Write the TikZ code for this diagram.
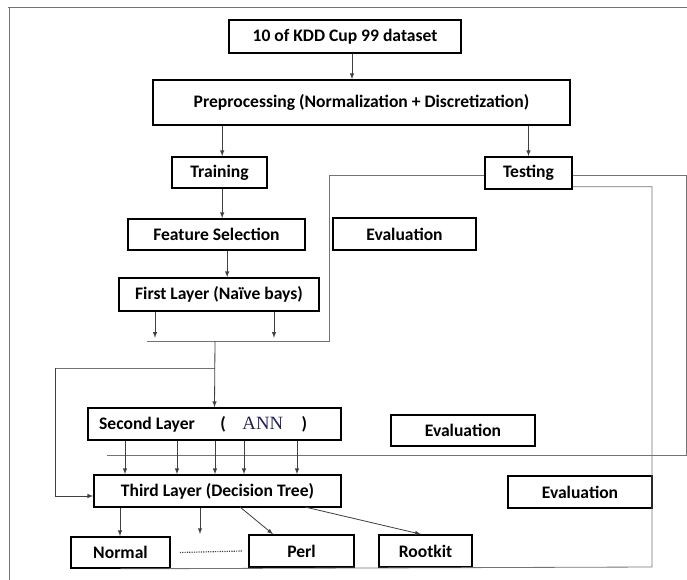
\documentclass[tikz,border=0pt]{standalone}
\usepackage{fontspec}
\setmainfont{Carlito}
\newfontfamily\annfont{Liberation Serif}
\usetikzlibrary{calc}
\definecolor{anncol}{rgb}{0.13,0.13,0.35}

\begin{document}
\begin{tikzpicture}[x = 0.03cm, y = -0.03cm, > = latex,
	block/.style = {rectangle, draw, line width = 1.4pt, inner sep = 0pt, font = \fontsize{15}{17}\selectfont\bfseries},
	dims/.style 2 args = {minimum width = #1*0.03cm, minimum height = #2*0.03cm},
	wire/.style = {draw = black!55, line width = 0.7pt},
	flow/.style = {->, draw = black!75, line width = 0.7pt}]

	\useasboundingbox (0, 0) rectangle (687, 580);

	% Frame

	\draw[wire] (8, 7) -- (687, 7);
	\draw[wire] (9, 7) -- (9, 580);

	% Process boxes

	\node[block, dims = {232}{33}] (data) at (345, 36.5) {10 of KDD Cup 99 dataset};
	\node[block, dims = {417}{45}] (prep) at (361.5, 102.5) {Preprocessing (Normalization + Discretization)};
	\node[block, dims = {95}{31}] (train) at (219.5, 172.5) {Training};
	\node[block, dims = {87}{32}] (test) at (528.5, 173) {Testing};
	\node[block, dims = {177}{31}] (feat) at (216.5, 234.5) {Feature Selection};
	\node[block, dims = {200}{33}] (first) at (219, 294.5) {First Layer (Na\"ive bays)};
	\node[block, dims = {253}{32}] (second) at (214.5, 424) {Second Layer\hspace{1.45em}(\hspace{0.95em}{\annfont\mdseries\fontsize{16}{17}\selectfont\color{anncol}ANN}\hspace{1.05em})\hspace*{1.3em}\mbox{}};
	\node[block, dims = {247}{32}] (third) at (217.5, 491) {Third Layer (Decision Tree)};

	% Evaluation boxes

	\node[block, dims = {143}{32}] (evalA) at (404.5, 234) {Evaluation};
	\node[block, dims = {144}{31}] (evalB) at (463, 430.5) {Evaluation};
	\node[block, dims = {144}{32}] (evalC) at (580, 492) {Evaluation};

	% Classes

	\node[block, dims = {99}{31}] (normal) at (120.5, 552.5) {Normal};
	\node[block, dims = {105}{32}] (perl) at (301.5, 551) {Perl};
	\node[block, dims = {93}{32}] (rootkit) at (425.5, 551) {Rootkit};

	% Junction points

	\coordinate (joinL) at (147, 341);
	\coordinate (joinM) at (215, 341);
	\coordinate (joinR) at (329, 341);
	\coordinate (loopL) at (55, 368);
	\coordinate (edgeR) at (686, 455);
	\coordinate (sepL) at (107, 455);
	\coordinate (backR) at (652, 567);
	\coordinate (open) at (200, 534);

	% Testing lines

	\begin{scope}[wire]
		\draw (joinL) -- (joinR) |- ($(test.west) + (0, 2)$);
		\draw ($(test.east) + (0, 2)$) -- ($(test.east -| edgeR) + (0, 2)$) -- (edgeR) -- (sepL);
		\draw ($(test.south east) + (0, -3)$) -| (backR) -- (normal.south);
		\draw (joinM |- loopL) -- (loopL);
	\end{scope}

	% Flow arrows

	\begin{scope}[flow]
		\draw ([xshift = 0.21cm] data.south) -- ([xshift = 0.21cm] data.south |- prep.north);
		\draw ([xshift = 0.08cm] train.north |- prep.south) -- ([xshift = 0.08cm] train.north);
		\draw (test.north |- prep.south) -- (test.north);
		\draw ([xshift = 0.08cm] train.south) -- ([xshift = 0.08cm] train.south |- feat.north);
		\draw ([xshift = 0.32cm] feat.south) -- ([xshift = 0.32cm] feat.south |- first.north);
		\draw ([xshift = -1.92cm] first.south) -- ++(0, 26);
		\draw ([xshift = 1.65cm] first.south) -- ++(0, 26);
		\draw (joinM) -- (second.north);
		\draw (loopL) |- ([yshift = -0.15cm] third.west);
		\foreach \x in {125, 177, 215, 244, 297} {
			\coordinate (tap) at (\x, 0);
			\draw (second.south -| tap) -- (third.north -| tap);
		}
		\draw ([xshift = -0.015cm] normal.north |- third.south) -- ([xshift = -0.015cm] normal.north);
		\draw (open |- third.south) -- (open);
		\draw (240, 507) -- (perl.north west -| 273, 0);
		\draw (305, 507) -- ([xshift = -0.14cm] rootkit.north);
	\end{scope}

	\draw[black!75, line width = 1pt, densely dotted] ([xshift = 0.27cm] normal.east) -- ([xshift = -0.18cm] perl.west);

\end{tikzpicture}
\end{document}
